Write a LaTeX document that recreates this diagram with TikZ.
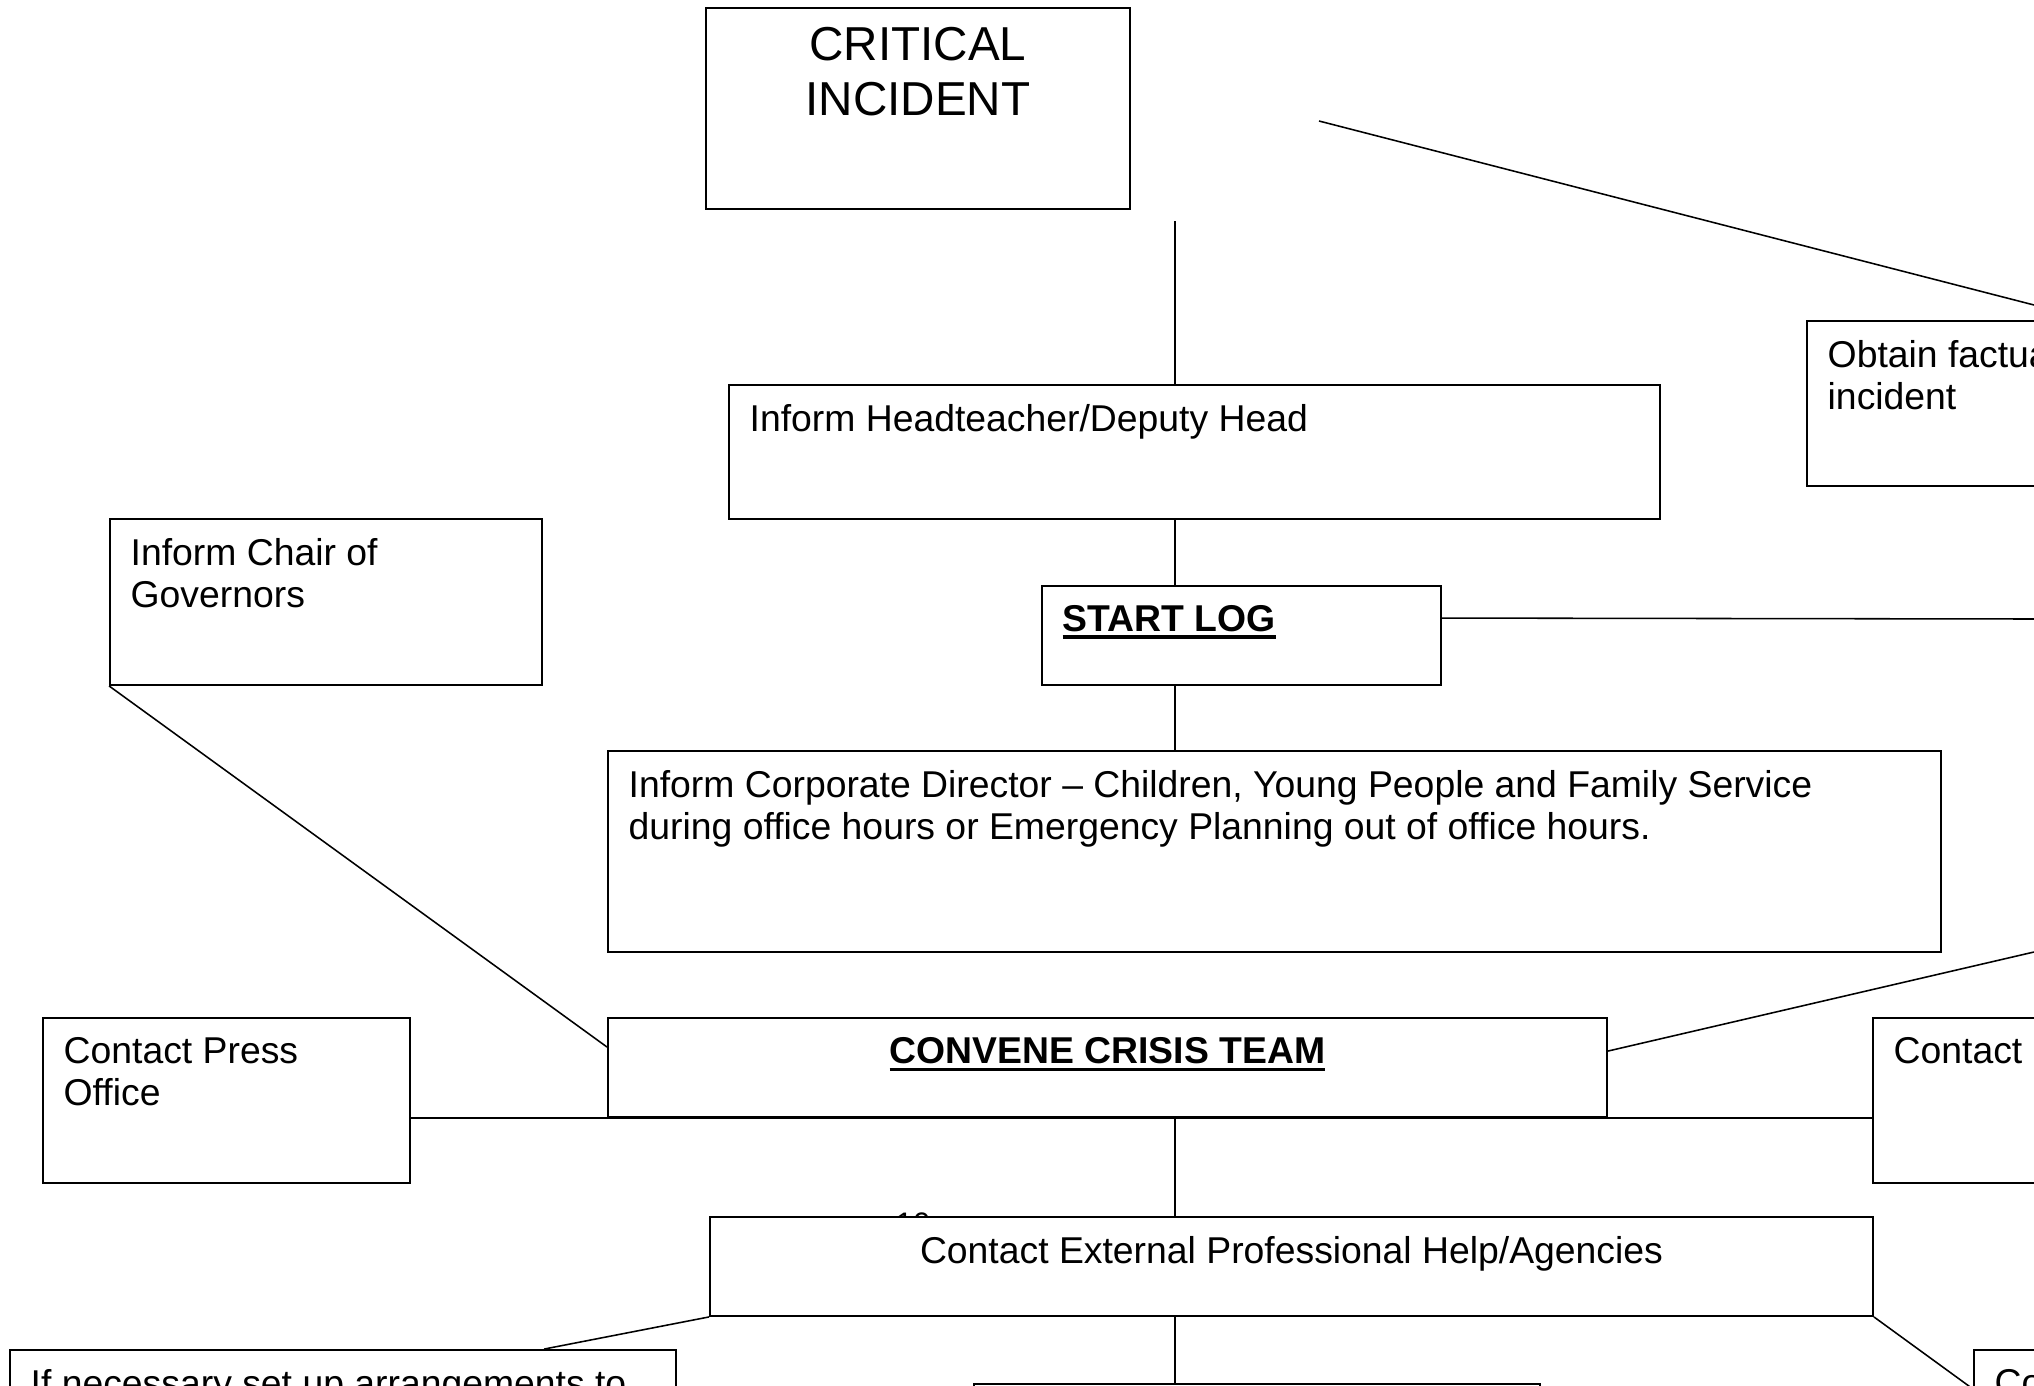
\documentclass[tikz,border=0pt]{standalone}
\usepackage{fontspec}
\setmainfont{Liberation Sans}
\usetikzlibrary{fit}
\newcommand{\flowbox}[6]{\node[box,fit={(#2,#3)(#4,#5)}] (#1) {};\node[boxtext,anchor=north west] (#1-t) at ([shift={(21,20)}]#1.north west) {#6};}
\newcommand{\centbox}[7][]{\node[box,fit={(#3,#4)(#5,#6)}] (#2) {};\node[boxtext,anchor=north,align=center,#1] (#2-t) at ([shift={(0,20)}]#2.north) {#7};}
\newcommand{\ulbold}[1]{\setbox0\hbox{\bfseries #1}\rlap{\copy0}\rule[-2.3pt]{\wd0}{1.1pt}}

\begin{document}
\begin{tikzpicture}[x=0.3214pt,y=-0.3214pt,font=\fontsize{12}{13.4}\selectfont,
  box/.style={draw,fill=white,line width=.6pt,inner sep=0pt},boxtext/.style={inner sep=0pt,align=left},link/.style={line width=.5pt}]
\useasboundingbox (0,0) rectangle (2034,1386);\clip (0,0) rectangle (2034,1386);
\node[font=\fontsize{10}{12}\selectfont,inner sep=0pt,anchor=north] (pageno) at (913,1212) {10};
\centbox[font=\fontsize{15.3}{17.5}\selectfont]{crit}{706}{8}{1130}{209}{CRITICAL\\INCIDENT}
\flowbox{head}{729}{385}{1660}{519}{Inform Headteacher/Deputy Head}
\flowbox{fact}{1807}{321}{2200}{486}{Obtain factual\\incident}
\flowbox{chair}{110}{519}{542}{685}{Inform Chair of\\Governors}
\flowbox{log}{1042}{586}{1441}{685}{\ulbold{START LOG}}
\flowbox{corp}{608}{751}{1941}{952}{Inform Corporate Director – Children, Young People and Family Service\\during office hours or Emergency Planning out of office hours.}
\flowbox{press}{43}{1018}{410}{1183}{Contact Press\\Office}
\centbox{crisis}{608}{1018}{1607}{1117}{\ulbold{CONVENE CRISIS TEAM}}
\flowbox{contact}{1873}{1018}{2200}{1183}{Contact}
\centbox{agency}{710}{1217}{1873}{1316}{Contact External Professional Help/Agencies}
\flowbox{arrange}{10}{1350}{676}{1500}{If necessary set up arrangements to}
\flowbox{next}{974}{1384}{1540}{1500}{}
\flowbox{corner}{1974}{1350}{2200}{1500}{Contact}
\coordinate (spine) at (1175,221);\coordinate (slant) at (1319,121);\coordinate (slantend) at (2034,305);
\coordinate (logend) at (2034,619);\coordinate (crisisend) at (2034,952);
\draw[link] (slant) -- (slantend);
\draw[link] (spine) -- (spine |- head.north);
\draw[link] (spine |- head.south) -- (spine |- log.north);
\draw[link] ([shift={(0,33)}]log.north east) -- (logend);
\draw[link] (spine |- log.south) -- (spine |- corp.north);
\draw[link] (chair.south west) -- ([shift={(0,30)}]crisis.north west);
\draw[link] ([shift={(0,34)}]crisis.north east) -- (crisisend);
\draw[link] (press.east |- crisis.south) -- (contact.west |- crisis.south);
\draw[link] (spine |- crisis.south) -- (spine |- agency.north);
\draw[link] (agency.south west) -- ([shift={(535,0)}]arrange.north west);
\draw[link] (spine |- agency.south) -- (spine |- next.north);
\draw[link] (agency.south east) -- ([shift={(0,40)}]corner.north west);
\end{tikzpicture}
\end{document}
